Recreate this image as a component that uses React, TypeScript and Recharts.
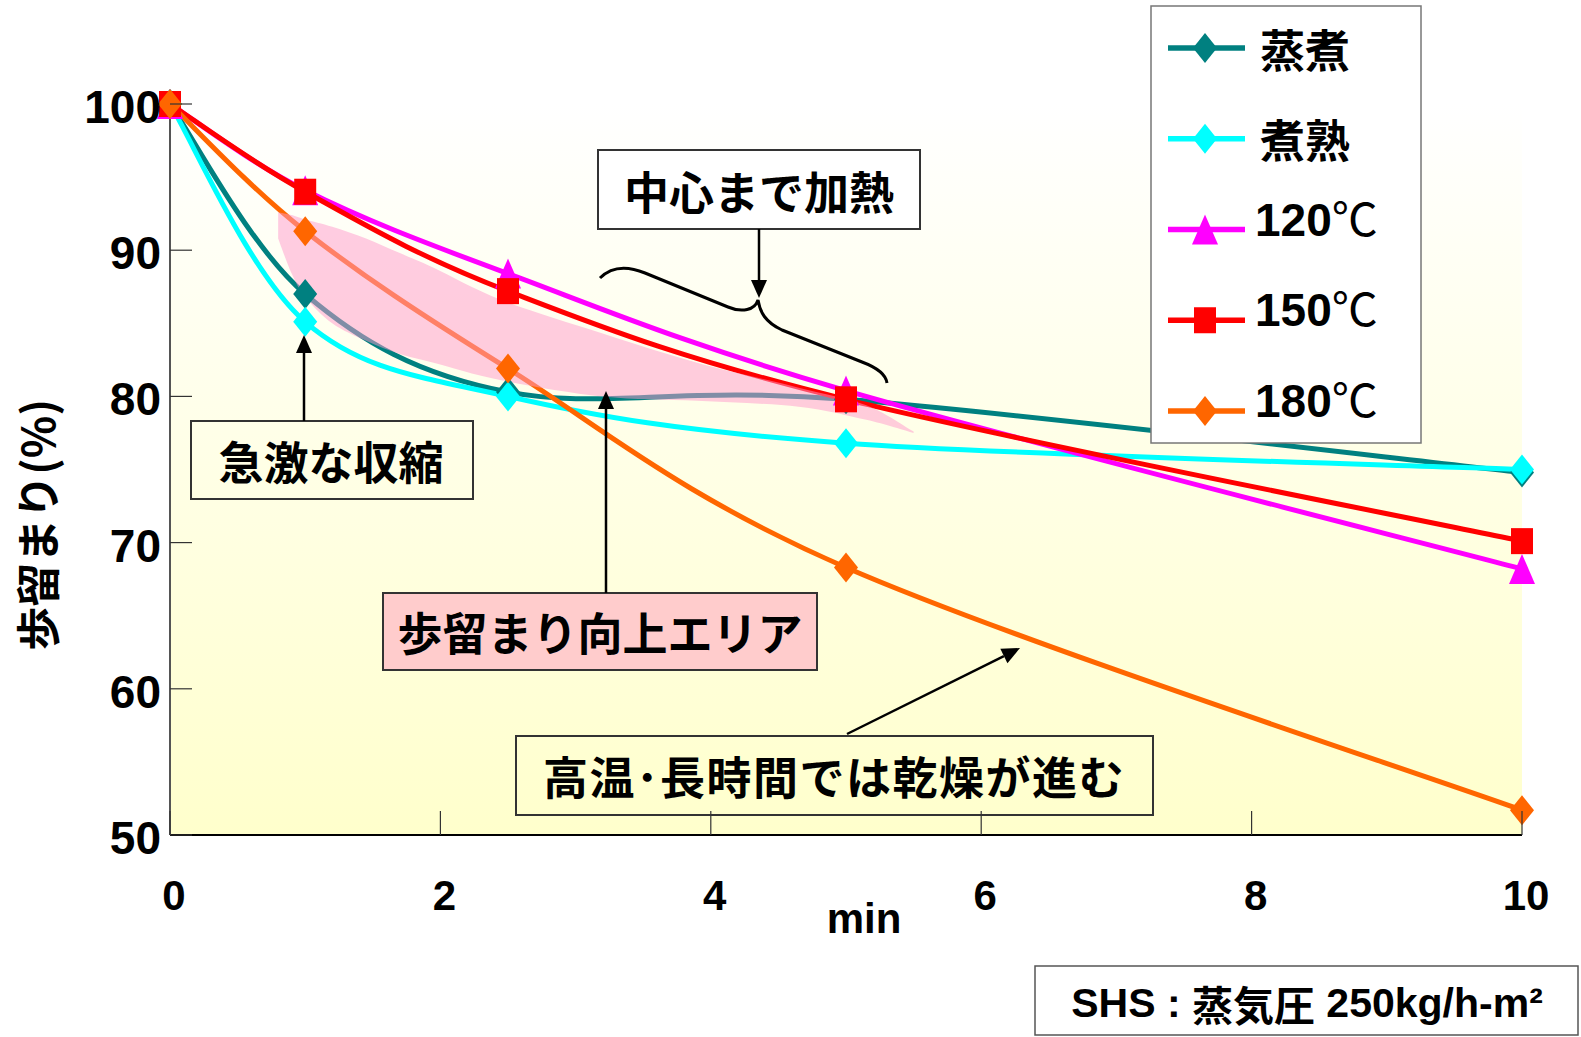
import React from 'react';
import { ComposedChart, Line, Area, XAxis, YAxis, CartesianGrid, Legend } from 'recharts';

// time (min)
const minutes = [0, 1, 2.5, 5, 10];
// yield (%) per method
const steamed = [100, 87.0, 80.3, 79.8, 74.8]; // 蒸煮
const boiled = [100, 85.1, 80.0, 76.8, 75.0]; // 煮熟
const shs120 = [100, 94.1, 88.4, 80.4, 68.2];
const shs150 = [100, 94.0, 87.2, 79.8, 70.1];
const shs180 = [100, 91.3, 81.9, 68.3, 51.7];

const xTicks = [0, 2, 4, 6, 8, 10];
const yTicks = [50, 60, 70, 80, 90, 100];

// pink "歩留まり向上エリア" band
const bandX = [0.8, 0.9, 1.0, 1.2, 1.45, 1.7, 1.95, 2.45, 3.2, 3.9, 4.65, 5.15, 5.5];
const bandHigh = [92.6, 92.4, 92.1, 91.6, 90.8, 89.8, 88.8, 86.6, 84.3, 82.3, 80.6, 79.4, 77.6];
const bandLow = [90.8, 88.4, 86.8, 85.0, 83.8, 82.9, 82.3, 81.1, 80.0, 79.7, 79.3, 78.4, 77.5];

const series = [
  { key: 'steamed', name: '蒸煮', color: '#008080', shape: 'diamond', values: steamed },
  { key: 'boiled', name: '煮熟', color: '#00FFFF', shape: 'diamond', values: boiled },
  { key: 'shs120', name: '120', color: '#FF00FF', shape: 'triangle', values: shs120 },
  { key: 'shs150', name: '150', color: '#FF0000', shape: 'square', values: shs150 },
  { key: 'shs180', name: '180', color: '#FF6600', shape: 'diamond', values: shs180 },
];

const data = minutes.map((x, i) => {
  const row: any = { x };
  series.forEach((s) => (row[s.key] = s.values[i]));
  return row;
});
const band = bandX.map((x, i) => ({ x, range: [bandLow[i], bandHigh[i]] }));

const LATIN = "'Liberation Sans', 'Noto Sans CJK JP', sans-serif";
const CJK = "'Noto Sans CJK JP', 'Liberation Sans', sans-serif";

// spreadsheet-style smoothed line (Catmull-Rom bezier), usable as a d3 curve factory
function smoothCurve(context: any) {
  let pts: number[][] = [];
  let state = NaN;
  return {
    areaStart() { state = 0; },
    areaEnd() { state = NaN; },
    lineStart() { pts = []; },
    point(x: number, y: number) { pts.push([+x, +y]); },
    lineEnd() {
      const n = pts.length;
      if (n > 0) {
        if (state) context.lineTo(pts[0][0], pts[0][1]);
        else context.moveTo(pts[0][0], pts[0][1]);
        for (let i = 0; i < n - 1; i++) {
          const p0 = pts[Math.max(i - 1, 0)];
          const p1 = pts[i];
          const p2 = pts[i + 1];
          const p3 = pts[Math.min(i + 2, n - 1)];
          context.bezierCurveTo(
            p1[0] + (p2[0] - p0[0]) / 6, p1[1] + (p2[1] - p0[1]) / 6,
            p2[0] - (p3[0] - p1[0]) / 6, p2[1] - (p3[1] - p1[1]) / 6,
            p2[0], p2[1]);
        }
      }
      if (state || (state !== 0 && n === 1)) context.closePath();
      state = 1 - state;
    },
  };
}

function Marker({ shape, color, cx, cy }: any) {
  if (cx == null || cy == null) return null;
  if (shape === 'square')
    return <rect x={cx - 11} y={cy - 13} width={22} height={26} fill={color} />;
  if (shape === 'triangle')
    return <polygon points={`${cx},${cy - 15} ${cx + 13},${cy + 15} ${cx - 13},${cy + 15}`} fill={color} />;
  return <polygon points={`${cx},${cy - 15} ${cx + 12},${cy} ${cx},${cy + 15} ${cx - 12},${cy}`} fill={color} />;
}

function YTick({ x, y, payload }: any) {
  return (
    <g>
      <line x1={x} x2={x + 22} y1={y} y2={y} stroke="#333" strokeWidth={1.2} />
      <text x={x - 9} y={y + 19} textAnchor="end" fontFamily={LATIN} fontWeight="bold" fontSize={46} fill="#000">
        {payload.value}
      </text>
    </g>
  );
}

function XTick({ x, y, payload }: any) {
  return (
    <g>
      <line x1={x} x2={x} y1={y} y2={y - 24} stroke="#333" strokeWidth={1.2} />
      <text x={x + 4} y={y + 75} textAnchor="middle" fontFamily={LATIN} fontWeight="bold" fontSize={42} fill="#000">
        {payload.value}
      </text>
    </g>
  );
}

function YTitle({ viewBox }: any) {
  const cx = viewBox.x + 36;
  const cy = 525;
  return (
    <text x={cx} y={cy} transform={`rotate(-90, ${cx}, ${cy})`} textAnchor="middle" dominantBaseline="central"
      fontFamily={CJK} fontWeight="bold" fontSize={44} fill="#000">
      歩留まり(%)
    </text>
  );
}

function XTitle({ viewBox }: any) {
  return (
    <text x={viewBox.x + viewBox.width / 2 + 18} y={viewBox.y + 98} textAnchor="middle"
      fontFamily={LATIN} fontWeight="bold" fontSize={42} fill="#000">
      min
    </text>
  );
}

function LegendBox() {
  return (
    <svg width={272} height={440} style={{ display: 'block' }}>
      <rect x={1} y={1} width={270} height={437} fill="#fff" stroke="#777" strokeWidth={1.5} />
      {series.map((s, i) => {
        const y = 43 + i * 90.75;
        const isTemp = s.key.startsWith('shs');
        return (
          <g key={s.key}>
            <line x1={18} x2={95} y1={y} y2={y} stroke={s.color} strokeWidth={5.5} />
            <Marker shape={s.shape} color={s.color} cx={55} cy={y} />
            {isTemp ? (
              <text x={105} y={y + 6} fontFamily={LATIN} fontWeight="bold" fontSize={46} fill="#000">
                {s.name}
                <tspan fontFamily={CJK} fontWeight="normal">℃</tspan>
              </text>
            ) : (
              <text x={110} y={y} dominantBaseline="central" fontFamily={CJK} fontWeight="bold" fontSize={45} fill="#000">
                {s.name}
              </text>
            )}
          </g>
        );
      })}
    </svg>
  );
}

function Arrow({ x1, y1, x2, y2 }: any) {
  const a = Math.atan2(y2 - y1, x2 - x1);
  const len = 18;
  const w = 8;
  const bx = x2 - len * Math.cos(a);
  const by = y2 - len * Math.sin(a);
  const px = -Math.sin(a) * w;
  const py = Math.cos(a) * w;
  return (
    <g>
      <line x1={x1} y1={y1} x2={bx} y2={by} stroke="#000" strokeWidth={2.5} />
      <polygon points={`${x2},${y2} ${bx + px},${by + py} ${bx - px},${by - py}`} fill="#000" />
    </g>
  );
}

function Annotations() {
  const boxText = { fontFamily: CJK, fontWeight: 'bold', fontSize: 45, fill: '#000', textAnchor: 'middle', dominantBaseline: 'central' } as any;
  return (
    <svg width={1581} height={1037} style={{ position: 'absolute', left: 0, top: 0, pointerEvents: 'none' }}>
      {/* 中心まで加熱 */}
      <rect x={598} y={150} width={322} height={79} fill="#fff" stroke="#333" strokeWidth={2} />
      <text x={759} y={190} {...boxText}>中心まで加熱</text>
      <Arrow x1={759} y1={229} x2={759} y2={298} />
      <path d="M 600 278 C 612 266, 628 266, 645 273 L 728 307 C 742 313, 755 310, 758 300 C 760 312, 765 322, 782 330 L 862 362 C 878 368, 886 375, 887 383"
        fill="none" stroke="#000" strokeWidth={3} />

      {/* 急激な収縮 */}
      <rect x={191} y={421} width={282} height={78} fill="none" stroke="#333" strokeWidth={2} />
      <text x={331} y={460} {...boxText}>急激な収縮</text>
      <Arrow x1={304} y1={421} x2={304} y2={335} />

      {/* 歩留まり向上エリア */}
      <rect x={383} y={593} width={434} height={77} fill="#FFCCCC" stroke="#333" strokeWidth={2} />
      <text x={600} y={631} {...boxText}>歩留まり向上エリア</text>
      <Arrow x1={606} y1={593} x2={606} y2={391} />

      {/* 高温・長時間では乾燥が進む */}
      <rect x={516} y={736} width={637} height={79} fill="none" stroke="#333" strokeWidth={2} />
      <text x={834} y={775} {...boxText} letterSpacing={1.5}>高温･長時間では乾燥が進む</text>
      <Arrow x1={847} y1={734} x2={1020} y2={648} />

      {/* SHS condition */}
      <rect x={1035} y={966} width={543} height={69} fill="#fff" stroke="#555" strokeWidth={1.5} />
      <text x={1307} y={1003} textAnchor="middle" dominantBaseline="central" fontFamily={LATIN} fontWeight="bold" fontSize={41} fill="#000">
        SHS : <tspan fontFamily={CJK}>蒸気圧</tspan> 250kg/h-m²
      </text>
    </svg>
  );
}

export default function App() {
  return (
    <div style={{ position: 'absolute', left: 0, top: 0, width: 1581, height: 1037, background: '#fff' }}>
      <ComposedChart width={1581} height={1037} data={data} margin={{ top: 104, right: 59, left: 0, bottom: 0 }}>
        <defs>
          <linearGradient id="plotBg" x1="0" y1="0" x2="0" y2="1">
            <stop offset="0%" stopColor="#FFFFFF" />
            <stop offset="100%" stopColor="#FFFFCC" />
          </linearGradient>
        </defs>
        <CartesianGrid fill="url(#plotBg)" stroke="none" horizontal={false} vertical={false} />
        <XAxis dataKey="x" type="number" domain={[0, 10]} ticks={xTicks} height={202} tickSize={0} tickMargin={0}
          tickLine={false} axisLine={{ stroke: '#000', strokeWidth: 2 }} tick={<XTick />} label={<XTitle />} />
        <YAxis type="number" domain={[50, 100]} ticks={yTicks} width={170} tickSize={0} tickMargin={0}
          tickLine={false} axisLine={{ stroke: '#555', strokeWidth: 2 }} tick={<YTick />} label={<YTitle />} />
        {series.map((s) => (
          <Line key={s.key} dataKey={s.key} name={s.name} type={smoothCurve as any} stroke={s.color} strokeWidth={5}
            isAnimationActive={false} activeDot={false}
            dot={(p: any) => <Marker key={`${s.key}-${p.index}`} shape={s.shape} color={s.color} cx={p.cx} cy={p.cy} />} />
        ))}
        <Area data={band} dataKey="range" type={smoothCurve as any} stroke="none" fill="#FF99CC" fillOpacity={0.5}
          isAnimationActive={false} activeDot={false} dot={false} legendType="none" zIndex={450} />
        <Legend layout="vertical" align="center" verticalAlign="middle" content={() => <LegendBox />}
          wrapperStyle={{ position: 'absolute', left: 1150, top: 5, width: 272, height: 440 }} />
      </ComposedChart>
      <Annotations />
    </div>
  );
}
